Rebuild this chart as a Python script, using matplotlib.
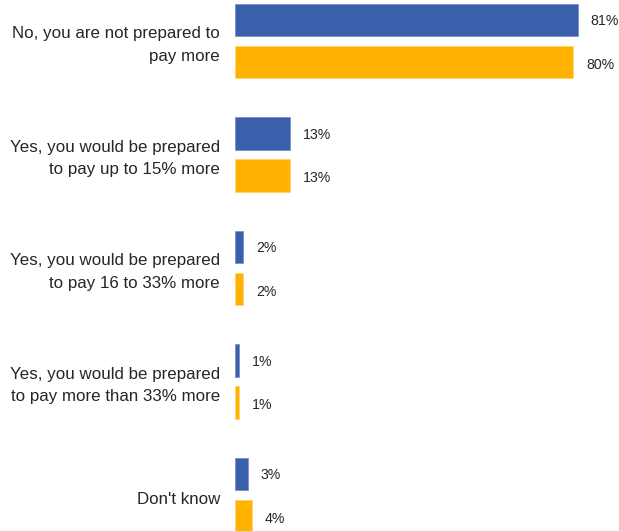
import matplotlib
matplotlib.use("Agg")
import matplotlib.pyplot as plt
import numpy as np

categories = [
    "No, you are not prepared to\npay more",
    "Yes, you would be prepared\nto pay up to 15% more",
    "Yes, you would be prepared\nto pay 16 to 33% more",
    "Yes, you would be prepared\nto pay more than 33% more",
    "Don't know",
]
series_a = [81, 13, 2, 1, 3]
series_b = [80, 13, 2, 1, 4]
value_labels_a = ["81%", "13%", "2%", "1%", "3%"]
value_labels_b = ["80%", "13%", "2%", "1%", "4%"]

blue = "#3A5FAB"
orange = "#FFB300"
text_color = "#262626"

W, H = 619, 531
fig = plt.figure(figsize=(W / 100, H / 100), dpi=100)
left_px = 235
ax = fig.add_axes([left_px / W, 0, (W - left_px) / W, 1])

y = np.arange(len(categories))
off = 0.185
h = 0.282
ax.barh(y - off, series_a, height=h, color=blue, edgecolor="#6f8cc8", linewidth=0.5)
ax.barh(y + off, series_b, height=h, color=orange, edgecolor="#ffd166", linewidth=0.5)

px_per_unit = 4.23
ax.set_xlim(0, (W - left_px) / px_per_unit)
ax.set_ylim((531 - 41) / 113.5, -41 / 113.5)
ax.axis("off")

vfam = ["Liberation Sans Narrow", "Liberation Sans", "DejaVu Sans"]
for i in range(len(categories)):
    ax.annotate(value_labels_a[i], (series_a[i], y[i] - off), xytext=(13, -1),
                textcoords="offset pixels", va="center", ha="left",
                fontsize=10.2, color=text_color, family=vfam)
    ax.annotate(value_labels_b[i], (series_b[i], y[i] + off), xytext=(13, -3),
                textcoords="offset pixels", va="center", ha="left",
                fontsize=10.2, color=text_color, family=vfam)
    ax.annotate(categories[i], (0, y[i]), xytext=(-15, -4),
                textcoords="offset pixels", va="center", ha="right",
                fontsize=12.2, color=text_color, family=["Liberation Sans", "DejaVu Sans"],
                linespacing=1.65, annotation_clip=False)

fig.savefig("out.png", dpi=100)
